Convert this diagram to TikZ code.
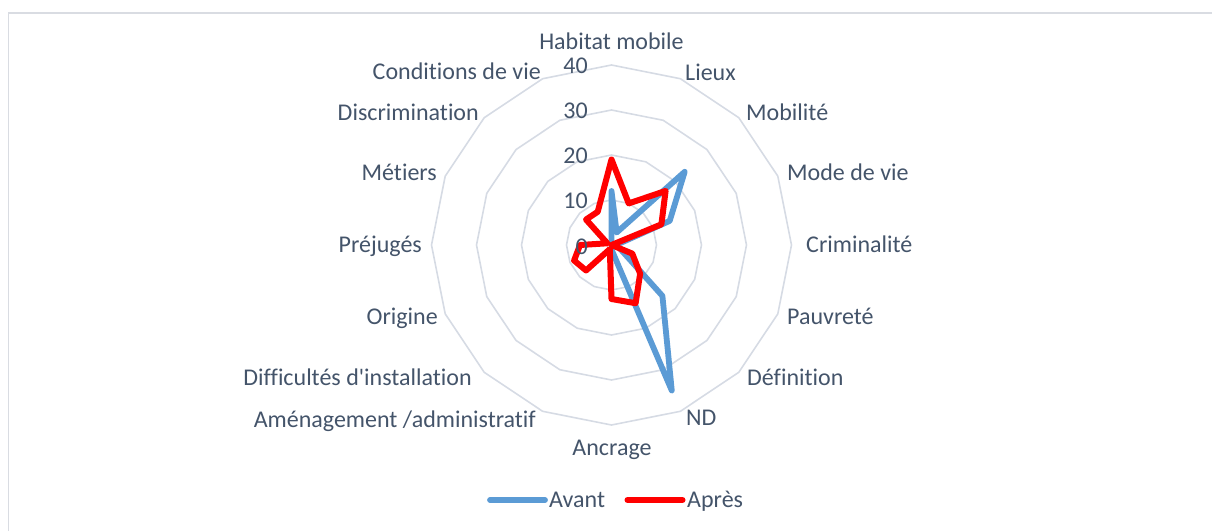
\documentclass[tikz,border=0pt]{standalone}
\usepackage{fontspec}
\newfontfamily\lblfont[Ligatures=NoCommon]{Carlito}
\usetikzlibrary{calc}
\definecolor{txt}{RGB}{68,84,106}
\definecolor{gridc}{RGB}{214,219,228}
\definecolor{framec}{RGB}{217,220,226}
\definecolor{avantc}{RGB}{91,155,213}
\definecolor{apresc}{RGB}{255,0,0}
\tikzset{
  lbl/.style={font=\lblfont\fontsize{24}{28}\selectfont, text=txt, inner sep=0pt},
  ringline/.style={draw=gridc, line width=1.6pt, line join=round},
  frameline/.style={draw=framec, line width=1.6pt},
  avantline/.style={draw=avantc, line width=5.8pt, line join=round, line cap=round},
  apresline/.style={draw=apresc, line width=6pt, line join=round, line cap=round},
}
\begin{document}
\begin{tikzpicture}[x=1pt,y=-1pt]
\useasboundingbox (0,0) rectangle (1212,531);
\coordinate (c) at (611.5,245);
\coordinate (fb) at (8.5,531);
\coordinate (ft) at (8.5,13);
\coordinate (fr) at (1212,13);
\draw[frameline] (fb) -- (ft) -- (fr);
% rings
\foreach \r in {1,...,4}{
  \draw[ringline] ($(c)+(-90:{45*\r})$) \foreach \i in {1,...,15}{ -- ($(c)+({-90+22.5*\i}:{45*\r})$)} -- cycle;
}
% data
\foreach \v [count=\i from 0] in {12,3,23,14,1,2,16,35,1,0,0,0,0,0,0,0}
  \coordinate (a\i) at ($(c)+({-90+22.5*\i}:{4.5*\v})$);
\foreach \v [count=\i from 0] in {19,10,17,12,0,5,9,14,12,1,8,9,7,1,8,8}
  \coordinate (p\i) at ($(c)+({-90+22.5*\i}:{4.5*\v})$);
\draw[avantline] (a0) \foreach \i in {1,...,15}{ -- (a\i)} -- cycle;
\draw[apresline] (p0) \foreach \i in {1,...,15}{ -- (p\i)} -- cycle;
% value labels
\node[lbl, anchor=base east] (v0) at (588,254) {0};
\node[lbl, anchor=base east] (v10) at (588,208.5) {10};
\node[lbl, anchor=base east] (v20) at (588,163.5) {20};
\node[lbl, anchor=base east] (v30) at (588,118.5) {30};
\node[lbl, anchor=base east] (v40) at (588,73.5) {40};
% axis labels
\node[lbl, anchor=base] (l0) at (611.5,49) {Habitat mobile};
\node[lbl, anchor=base west] (l1) at (685,80) {Lieux};
\node[lbl, anchor=base west] (l2) at (746,120) {Mobilité};
\node[lbl, anchor=base west] (l3) at (787,180) {Mode de vie};
\node[lbl, anchor=base west] (l4) at (806,252) {Criminalité};
\node[lbl, anchor=base west] (l5) at (787,324.5) {Pauvreté};
\node[lbl, anchor=base west] (l6) at (747,385) {Définition};
\node[lbl, anchor=base west] (l7) at (686,425) {ND};
\node[lbl, anchor=base] (l8) at (612,455) {Ancrage};
\node[lbl, anchor=base east] (l9) at (536,427) {Aménagement /administratif};
\node[lbl, anchor=base east] (l10) at (472,385) {Difficultés d'installation};
\node[lbl, anchor=base east] (l11) at (438,324.5) {Origine};
\node[lbl, anchor=base east] (l12) at (422,252) {Préjugés};
\node[lbl, anchor=base east] (l13) at (437,180) {Métiers};
\node[lbl, anchor=base east] (l14) at (479,120) {Discrimination};
\node[lbl, anchor=base east] (l15) at (541,79.5) {Conditions de vie};
% legend
\coordinate (la1) at (490,500);
\coordinate (la2) at (545,500);
\coordinate (lp1) at (627.5,500);
\coordinate (lp2) at (682.5,500);
\draw[avantline] (la1) -- (la2);
\draw[apresline] (lp1) -- (lp2);
\node[lbl, anchor=base west] (ta) at (549,507) {Avant};
\node[lbl, anchor=base west] (tp) at (687,507) {Après};
\end{tikzpicture}
\end{document}
